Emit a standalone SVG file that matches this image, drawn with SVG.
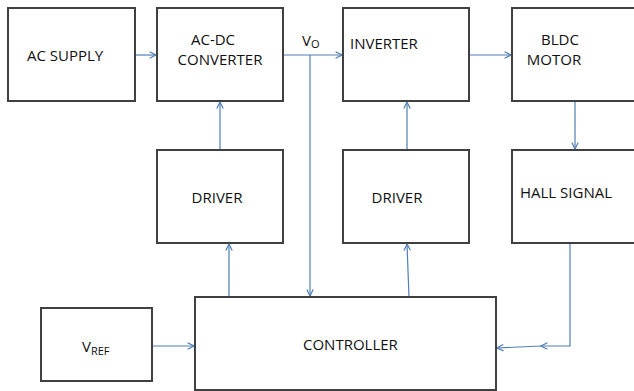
<svg xmlns="http://www.w3.org/2000/svg" width="634" height="391" viewBox="0 0 634 391">
<style>
.box{fill:#fff;stroke:#404040;stroke-width:2}
.lbl{font-family:"Open Sans","Liberation Sans",sans-serif;font-size:15px;fill:#111}
.sub{font-size:11px}
.con{fill:none;stroke:#4f7fb5;stroke-width:1.2}
</style>
<defs>
<marker id="arr" viewBox="0 0 10 10" refX="9" refY="5" markerWidth="8" markerHeight="8" markerUnits="userSpaceOnUse" orient="auto">
<path d="M1,1 L9,5 L1,9" fill="none" stroke="#4f7fb5" stroke-width="1.5"/>
</marker>
</defs>
<rect width="634" height="391" fill="#fff"/>
<g id="connectors">
<path class="con" d="M135,55 H156" marker-end="url(#arr)"/>
<path class="con" d="M283,55 H342" marker-end="url(#arr)"/>
<path class="con" d="M310,55 V296" marker-end="url(#arr)"/>
<path class="con" d="M469,55 H511" marker-end="url(#arr)"/>
<path class="con" d="M575,101 V149" marker-end="url(#arr)"/>
<path class="con" d="M220,150 V102" marker-end="url(#arr)"/>
<path class="con" d="M229,297 V244" marker-end="url(#arr)"/>
<path class="con" d="M407,150 V102" marker-end="url(#arr)"/>
<path class="con" d="M409,297 L407,244" marker-end="url(#arr)"/>
<path class="con" d="M152,346 H194" marker-end="url(#arr)"/>
<path class="con" d="M570,243 V346 H541" marker-end="url(#arr)"/>
<path class="con" d="M541,346 L497,348" marker-end="url(#arr)"/>
</g>
<g id="ac-supply">
<rect class="box" x="8" y="8" width="127" height="93"/>
<text class="lbl" x="27" y="61">AC SUPPLY</text>
</g>
<g id="ac-dc-converter">
<rect class="box" x="157" y="8" width="126" height="93"/>
<text class="lbl" x="213" y="45" text-anchor="middle">AC-DC</text>
<text class="lbl" x="220" y="65" text-anchor="middle">CONVERTER</text>
</g>
<g id="vo-label">
<text class="lbl" x="302" y="46">V<tspan class="sub" dy="2">O</tspan></text>
</g>
<g id="inverter">
<rect class="box" x="343" y="8" width="126" height="93"/>
<text class="lbl" x="350" y="49">INVERTER</text>
</g>
<g id="bldc-motor">
<rect class="box" x="512" y="8" width="130" height="93"/>
<text class="lbl" x="560" y="45" text-anchor="middle">BLDC</text>
<text class="lbl" x="554" y="65" text-anchor="middle">MOTOR</text>
</g>
<g id="driver1">
<rect class="box" x="157" y="150" width="126" height="93"/>
<text class="lbl" x="217" y="203" text-anchor="middle">DRIVER</text>
</g>
<g id="driver2">
<rect class="box" x="343" y="150" width="126" height="93"/>
<text class="lbl" x="397" y="203" text-anchor="middle">DRIVER</text>
</g>
<g id="hall-signal">
<rect class="box" x="512" y="150" width="130" height="93"/>
<text class="lbl" x="520" y="198">HALL SIGNAL</text>
</g>
<g id="vref">
<rect class="box" x="41" y="308" width="111" height="73"/>
<text class="lbl" x="82" y="352">V<tspan class="sub" dy="3">REF</tspan></text>
</g>
<g id="controller">
<rect class="box" x="195" y="297" width="301" height="93"/>
<text class="lbl" x="303" y="350">CONTROLLER</text>
</g>
</svg>
